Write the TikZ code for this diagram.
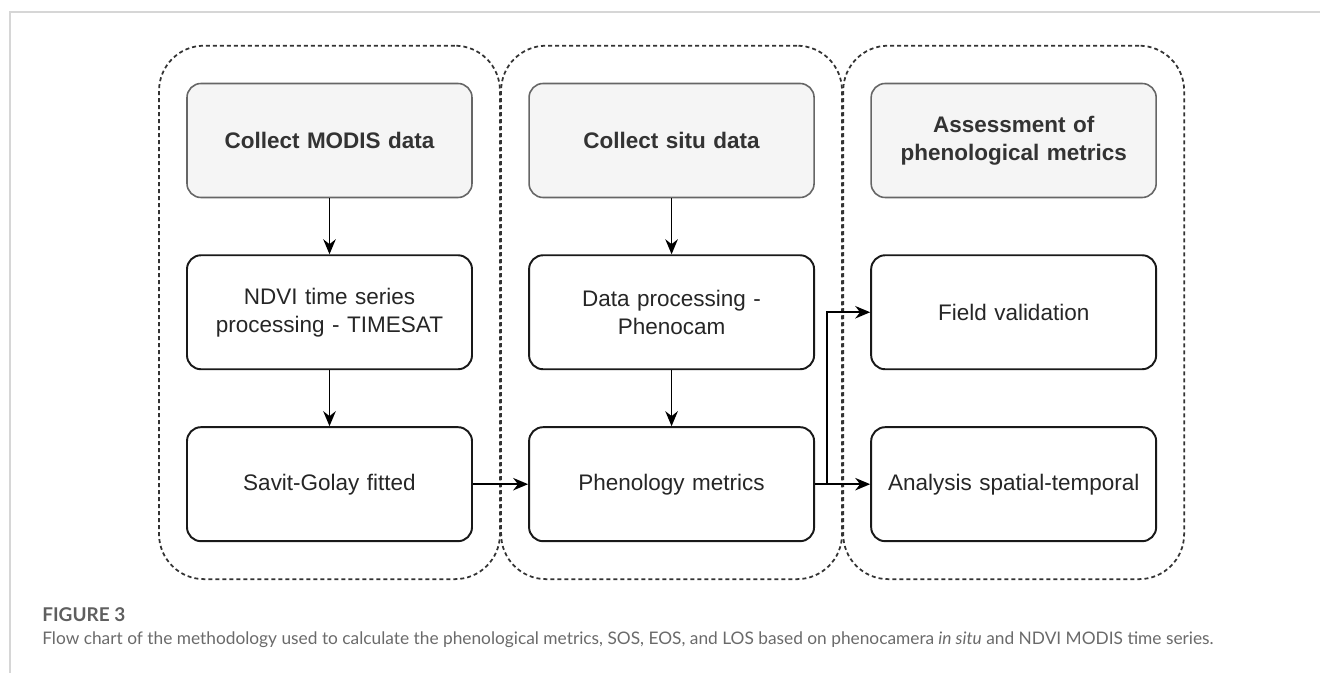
\documentclass[tikz,border=0pt]{standalone}
\usepackage{fontspec}
\setmainfont{Liberation Sans}
\newfontfamily\capfont{Lato}
\usetikzlibrary{arrows.meta,positioning,fit,backgrounds}

\definecolor{headfill}{HTML}{F5F5F5}
\definecolor{headborder}{HTML}{666666}
\definecolor{headtext}{HTML}{333333}
\definecolor{framegray}{HTML}{D6D6D6}
\definecolor{capgray}{HTML}{6A6A6A}

\begin{document}
\begin{tikzpicture}[node distance=1.12cm and 1.11cm, font=\fontsize{12.8}{16}\selectfont]
    % Define styles
    \tikzstyle{collect}=[rectangle,rounded corners=0.28cm,draw=headborder,fill=headfill,text=headtext,font=\fontsize{12.8}{16}\selectfont\bfseries,text width=5.2cm,inner xsep=0.25cm,align=center,minimum height=2.28cm,line width=0.9pt]
    \tikzstyle{process}=[rectangle,rounded corners=0.28cm,draw=black!90,fill=white,text=black!85,text width=5.2cm,inner xsep=0.25cm,align=center,minimum height=2.28cm,line width=1.1pt]
    \tikzstyle{line}=[draw,line width=1pt,-{Stealth[length=0.3cm,width=0.25cm]}]
    \tikzstyle{stage}=[draw=black!80,dash pattern=on 0.08cm off 0.06cm,line width=1pt,rounded corners=0.9cm,inner xsep=0.54cm,inner ysep=0.74cm]

    \useasboundingbox (0,0) rectangle (26.4,-13.46);

    % Page frame
    \draw [framegray, line width=0.9pt] (26.4,-0.24) -- (0.2,-0.24) -- (0.2,-13.46);

    % Top row
    \node [collect] (modis) at (6.59,-2.81) {Collect MODIS data};
    \node [collect, right=of modis] (situ) {Collect situ data};
    \node [collect, right=of situ] (assess) {Assessment of\\phenological metrics};

    % Middle row
    \node [process, below=of modis] (ndvi) {NDVI time series\\processing - TIMESAT};
    \node [process, below=of situ] (phenocam) {Data processing -\\Phenocam};
    \node [process, below=of assess] (field) {Field validation};

    % Bottom row
    \node [process, below=of ndvi] (savgol) {Savit-Golay fitted};
    \node [process, below=of phenocam] (metrics) {Phenology metrics};
    \node [process, below=of field] (analysis) {Analysis spatial-temporal};

    % Define connections
    \path [line] (modis) -- (ndvi);
    \path [line] (ndvi) -- (savgol);
    \path [line] (situ) -- (phenocam);
    \path [line] (phenocam) -- (metrics);
    \path [line] (savgol) -- (metrics);
    \path [line] (metrics) -- (analysis);
    \coordinate [right=0.24cm of metrics.east] (split);
    \path [line] (split) |- (field.west);

    % Dashed stages
    \begin{pgfonlayer}{background}
        \node [stage, fit=(modis) (savgol)] (stage1) {};
        \node [stage, fit=(situ) (metrics)] (stage2) {};
        \node [stage, fit=(assess) (analysis)] (stage3) {};
    \end{pgfonlayer}

    % Caption
    \node [anchor=base west, inner sep=0pt, text=capgray!90!black, font=\capfont\fontsize{10.8}{13}\selectfont\bfseries] (figlabel) at (0.84,-12.44) {FIGURE 3};
    \node [anchor=base west, inner sep=0pt, text=capgray, font=\capfont\fontsize{9.85}{12}\selectfont] (figcaption) at (0.84,-12.9) {Flow chart of the methodology used to calculate the phenological metrics, SOS, EOS, and LOS based on phenocamera \textit{in situ} and NDVI MODIS time series.};
\end{tikzpicture}
\end{document}
